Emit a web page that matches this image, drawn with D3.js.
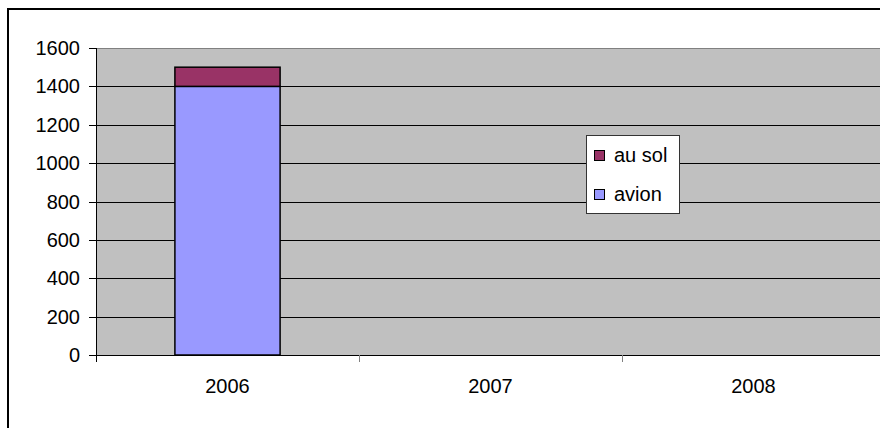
<!DOCTYPE html>
<html>
<head>
<meta charset="utf-8">
<script src="https://cdn.jsdelivr.net/npm/d3@7"></script>
<style>
  html, body { margin: 0; padding: 0; background: #fff; }
  svg { display: block; font-family: "Liberation Sans", Arial, sans-serif; }
</style>
</head>
<body>
<svg id="chart" width="880" height="428"></svg>
<script>
// data
const years = ['2006', '2007', '2008'];
const avion = [1400, null, null];
const auSol = [100, null, null];
const yTicks = [0, 200, 400, 600, 800, 1000, 1200, 1400, 1600];
const seriesNames = ['avion', 'au sol'];
const seriesColors = ['#9999ff', '#993366'];

const svg = d3.select('#chart');

// outer chart frame (runs past right and bottom of window)
svg.append('rect')
    .attr('x', 8).attr('y', 9)
    .attr('width', 900).attr('height', 440)
    .attr('fill', '#fff')
    .attr('stroke', '#000')
    .attr('stroke-width', 2);

const plot = {left: 96, top: 48, right: 885, bottom: 355};

const y = d3.scaleLinear()
    .domain([0, 1600])
    .range([plot.bottom, plot.top]);

const x = d3.scaleBand()
    .domain(years)
    .range([plot.left, plot.right])
    .paddingInner(0.6)
    .paddingOuter(0.3);

const step = x.step();

// plot area
svg.append('rect')
    .attr('x', plot.left).attr('y', plot.top)
    .attr('width', plot.right - plot.left)
    .attr('height', plot.bottom - plot.top)
    .attr('fill', '#c0c0c0');

svg.append('line')
    .attr('x1', plot.left).attr('x2', plot.right)
    .attr('y1', plot.top + 0.5).attr('y2', plot.top + 0.5)
    .attr('stroke', '#808080');

// gridlines
svg.append('g')
    .selectAll('line')
    .data(yTicks.filter(d => d > 0 && d < 1600))
    .enter().append('line')
    .attr('x1', plot.left).attr('x2', plot.right)
    .attr('y1', d => Math.round(y(d)) + 0.5)
    .attr('y2', d => Math.round(y(d)) + 0.5)
    .attr('stroke', '#000');

// stacked bars
const stackData = years.map((yr, i) => ({year: yr, avion: avion[i], auSol: auSol[i]}))
    .filter(d => d.avion != null);

stackData.forEach(function(d) {
    let base = 0;
    [d.avion, d.auSol].forEach(function(v, k) {
        svg.append('rect')
            .attr('x', x(d.year))
            .attr('y', y(base + v))
            .attr('width', x.bandwidth())
            .attr('height', y(base) - y(base + v))
            .attr('fill', seriesColors[k])
            .attr('stroke', '#000')
            .attr('stroke-width', 1.5);
        base += v;
    });
});

// y axis
const yAxis = svg.append('g');
yAxis.append('line')
    .attr('x1', plot.left + 0.5).attr('x2', plot.left + 0.5)
    .attr('y1', plot.top).attr('y2', plot.bottom)
    .attr('stroke', '#000');
yAxis.selectAll('.tick')
    .data(yTicks)
    .enter().append('line')
    .attr('x1', plot.left - 7).attr('x2', plot.left)
    .attr('y1', d => Math.round(y(d)) + 0.5)
    .attr('y2', d => Math.round(y(d)) + 0.5)
    .attr('stroke', '#000');
yAxis.selectAll('text')
    .data(yTicks)
    .enter().append('text')
    .attr('x', 80)
    .attr('y', d => y(d))
    .attr('dy', '0.35em')
    .attr('text-anchor', 'end')
    .attr('font-size', 20)
    .attr('fill', '#000')
    .text(d => d);

// x axis
const xAxis = svg.append('g');
xAxis.append('line')
    .attr('x1', plot.left).attr('x2', plot.right)
    .attr('y1', plot.bottom + 0.5).attr('y2', plot.bottom + 0.5)
    .attr('stroke', '#000');
xAxis.selectAll('.tick')
    .data(years.concat(['end']))
    .enter().append('line')
    .attr('x1', (d, i) => Math.round(plot.left + i * step) + 0.5)
    .attr('x2', (d, i) => Math.round(plot.left + i * step) + 0.5)
    .attr('y1', plot.bottom)
    .attr('y2', plot.bottom + 7)
    .attr('stroke', (d, i) => i === 0 ? '#000' : '#808080');
xAxis.selectAll('text')
    .data(years)
    .enter().append('text')
    .attr('x', d => x(d) + x.bandwidth() / 2)
    .attr('y', 393)
    .attr('text-anchor', 'middle')
    .attr('font-size', 20)
    .attr('fill', '#000')
    .text(d => d);

// legend
const legend = svg.append('g').attr('transform', 'translate(586,135)');
legend.append('rect')
    .attr('x', 0.5).attr('y', 0.5)
    .attr('width', 93).attr('height', 78)
    .attr('fill', '#fff')
    .attr('stroke', '#333');

const legendItems = [
    {name: seriesNames[1], color: seriesColors[1]},
    {name: seriesNames[0], color: seriesColors[0]}
];

const item = legend.selectAll('.item')
    .data(legendItems)
    .enter().append('g')
    .attr('transform', (d, i) => 'translate(0,' + (20 + i * 39) + ')');

item.append('rect')
    .attr('x', 8.5).attr('y', -4.5)
    .attr('width', 10).attr('height', 10)
    .attr('fill', d => d.color)
    .attr('stroke', '#000');

item.append('text')
    .attr('x', 28)
    .attr('y', 0)
    .attr('dy', '0.35em')
    .attr('font-size', 20)
    .attr('fill', '#000')
    .text(d => d.name);
</script>
</body>
</html>
